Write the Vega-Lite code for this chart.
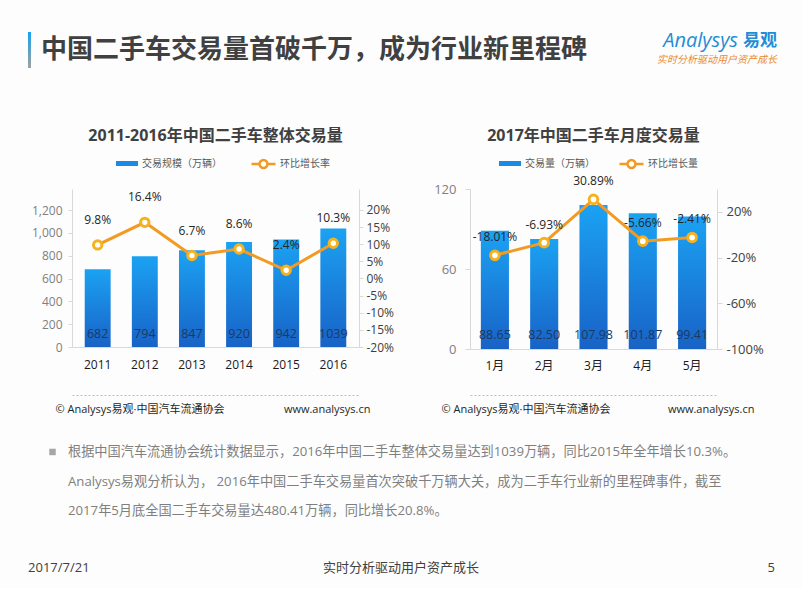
{
  "$schema": "https://vega.github.io/schema/vega-lite/v6.json",
  "background": "#FDFDFD",
  "padding": {"left": 28, "top": 30, "right": 24, "bottom": 10},
  "spacing": 27,
  "vconcat": [
    {
      "spacing": 59,
      "vconcat": [
        {
          "width": 706,
          "height": 36,
          "data": {"values": [{}]},
          "layer": [
            {
              "mark": {"type": "rect", "color": {"gradient": "linear", "x1": 0, "y1": 0, "x2": 0, "y2": 1, "stops": [{"offset": 0, "color": "#17A2EE"}, {"offset": 1, "color": "#A0A0A0"}]}},
              "encoding": {
                "x": {"datum": -0.0623, "type": "quantitative", "scale": {"domain": [0, 1]}, "axis": null},
                "x2": {"datum": -0.0581},
                "y": {"datum": 0, "type": "quantitative", "scale": {"domain": [0, 1]}, "axis": null},
                "y2": {"datum": 1}
              }
            },
            {
              "mark": {"type": "text", "text": "中国二手车交易量首破千万，成为行业新里程碑", "align": "left", "baseline": "middle", "fontSize": 26, "fontWeight": "bold", "color": "#404040"},
              "encoding": {"x": {"datum": -0.0439, "type": "quantitative"}, "y": {"datum": 0.5, "type": "quantitative"}}
            },
            {
              "mark": {"type": "text", "text": "Analysys", "align": "right", "baseline": "middle", "fontSize": 20, "fontStyle": "italic", "color": "#1F8DD6"},
              "encoding": {"x": {"datum": 0.9433, "type": "quantitative"}, "y": {"datum": 0.76, "type": "quantitative"}}
            },
            {
              "mark": {"type": "text", "text": "易观", "align": "right", "baseline": "middle", "fontSize": 17, "fontWeight": "bold", "color": "#1F8DD6"},
              "encoding": {"x": {"datum": 0.9986, "type": "quantitative"}, "y": {"datum": 0.76, "type": "quantitative"}}
            },
            {
              "mark": {"type": "text", "text": "实时分析驱动用户资产成长", "align": "right", "baseline": "middle", "fontSize": 10, "fontStyle": "italic", "color": "#E98A2C"},
              "encoding": {"x": {"datum": 0.9986, "type": "quantitative"}, "y": {"datum": 0.22, "type": "quantitative"}}
            }
          ]
        },
        {
          "spacing": 39,
          "resolve": {"scale": {"color": "independent", "stroke": "independent"}, "legend": {"color": "independent", "stroke": "independent"}},
          "hconcat": [
            {
              "width": 287,
              "height": 158,
              "title": {"text": "2011-2016年中国二手车整体交易量", "fontSize": 16, "fontWeight": "bold", "color": "#404040", "offset": 7, "anchor": "middle"},
              "data": {"values": [
                {"year": "2011", "volume": 682, "growth": 0.098},
                {"year": "2012", "volume": 794, "growth": 0.164},
                {"year": "2013", "volume": 847, "growth": 0.067},
                {"year": "2014", "volume": 920, "growth": 0.086},
                {"year": "2015", "volume": 942, "growth": 0.024},
                {"year": "2016", "volume": 1039, "growth": 0.103}
              ]},
              "layer": [
                {
                  "layer": [
                    {
                      "mark": {"type": "bar", "color": {"gradient": "linear", "x1": 0, "y1": 0, "x2": 0, "y2": 1, "stops": [{"offset": 0, "color": "#1BA2F3"}, {"offset": 1, "color": "#1862C6"}]}},
                      "encoding": {
                        "x": {"field": "year", "type": "ordinal", "scale": {"type": "band", "paddingInner": 0.45, "paddingOuter": 0.27},
                          "axis": {"labelAngle": 0, "labelFontSize": 12, "labelColor": "#1A1A1A", "labelPadding": 12, "ticks": false, "domainColor": "#D9D9D9", "title": null}},
                        "y": {"field": "volume", "type": "quantitative", "scale": {"domain": [0, 1384], "nice": false},
                          "axis": {"values": [0, 200, 400, 600, 800, 1000, 1200], "tickCount": 30, "format": ",d", "labelOverlap": false, "labelColor": "#7F7F7F", "labelFontSize": 12, "domainColor": "#D9D9D9", "tickColor": "#D9D9D9", "tickSize": 4, "grid": false, "title": null, "labelPadding": 6}}
                      }
                    },
                    {
                      "mark": {"type": "bar", "opacity": 0},
                      "encoding": {
                        "x": {"field": "year", "type": "ordinal"},
                        "y": {"field": "volume", "type": "quantitative"},
                        "color": {"datum": "交易规模（万辆）", "scale": {"range": ["#1A8AE5"]},
                          "legend": {"orient": "none", "legendX": 43, "legendY": -37.5, "title": null, "symbolType": "M-1,-0.23H1V0.23H-1Z", "symbolSize": 484, "symbolOpacity": 1, "labelFontSize": 10, "labelColor": "#595959", "labelOffset": 3, "padding": 0}}
                      }
                    }
                  ]
                },
                {
                  "layer": [
                    {
                      "mark": {"type": "line", "strokeWidth": 3},
                      "encoding": {
                        "x": {"field": "year", "type": "ordinal", "scale": {"type": "band", "paddingInner": 0.45, "paddingOuter": 0.27},
                          "axis": {"orient": "bottom", "offset": 48, "labels": false, "ticks": false, "domainColor": "#BFBFBF", "domainDash": [2, 2], "title": "© Analysys易观·中国汽车流通协会", "titleFontSize": 11, "titleFontWeight": "normal", "titleColor": "#262626", "titleAnchor": "start", "titleAlign": "left", "titleBaseline": "middle", "titleX": -17, "titleY": 14}},
                        "y": {"field": "growth", "type": "quantitative", "scale": {"domain": [-0.2, 0.2613], "nice": false},
                          "axis": {"orient": "right", "values": [-0.2, -0.15, -0.1, -0.05, 0, 0.05, 0.1, 0.15, 0.2], "tickCount": 30, "format": ".0%", "labelOverlap": false, "labelColor": "#404040", "labelFontSize": 12, "domainColor": "#D9D9D9", "tickColor": "#D9D9D9", "tickSize": 4, "grid": false, "title": null, "labelPadding": 3}},
                        "stroke": {"datum": "环比增长率", "scale": {"range": ["#F29A22"]},
                          "legend": {"orient": "none", "legendX": 178, "legendY": -38.5, "title": null, "symbolType": "M-1,0H-0.33M0.33,0H1M0.33,0A0.33,0.33,0,1,1,-0.33,0A0.33,0.33,0,1,1,0.33,0", "symbolSize": 576, "symbolStrokeWidth": 2.5, "symbolFillColor": "white", "labelFontSize": 10, "labelColor": "#595959", "labelOffset": 3, "padding": 0}}
                      }
                    },
                    {
                      "mark": {"type": "point", "filled": true, "fill": "white", "stroke": "#F5B21E", "strokeWidth": 3, "size": 70, "opacity": 1},
                      "encoding": {
                        "x": {"field": "year", "type": "ordinal"},
                        "y": {"field": "growth", "type": "quantitative"}
                      }
                    },
                    {
                      "mark": {"type": "text", "dy": -25, "fontSize": 12, "color": "#262626"},
                      "encoding": {
                        "x": {"field": "year", "type": "ordinal"},
                        "y": {"field": "growth", "type": "quantitative"},
                        "text": {"field": "growth", "type": "quantitative", "format": ".1%"}
                      }
                    }
                  ]
                },
                {
                  "mark": {"type": "text", "baseline": "middle", "dy": -13, "fontSize": 12.5, "color": "#1B3A63"},
                  "encoding": {
                    "x": {"field": "year", "type": "ordinal", "scale": {"type": "band", "paddingInner": 0.45, "paddingOuter": 0.27},
                      "axis": {"orient": "bottom", "offset": 48, "labels": false, "ticks": false, "domain": false, "title": "www.analysys.cn", "titleFontSize": 11, "titleFontWeight": "normal", "titleColor": "#262626", "titleAnchor": "end", "titleAlign": "right", "titleBaseline": "middle", "titleX": 298, "titleY": 14}},
                    "y": {"datum": 0, "type": "quantitative", "scale": {"domain": [0, 1384], "nice": false}, "axis": null},
                    "text": {"field": "volume", "type": "quantitative"}
                  }
                }
              ],
              "resolve": {"scale": {"x": "independent", "y": "independent"}}
            },
            {
              "width": 247,
              "height": 160,
              "title": {"text": "2017年中国二手车月度交易量", "fontSize": 16, "fontWeight": "bold", "color": "#404040", "offset": 7, "anchor": "middle"},
              "data": {"values": [
                {"month": "1月", "volume": 88.65, "growth": -0.1801},
                {"month": "2月", "volume": 82.50, "growth": -0.0693},
                {"month": "3月", "volume": 107.98, "growth": 0.3089},
                {"month": "4月", "volume": 101.87, "growth": -0.0566},
                {"month": "5月", "volume": 99.41, "growth": -0.0241}
              ]},
              "layer": [
                {
                  "layer": [
                    {
                      "mark": {"type": "bar", "color": {"gradient": "linear", "x1": 0, "y1": 0, "x2": 0, "y2": 1, "stops": [{"offset": 0, "color": "#1BA2F3"}, {"offset": 1, "color": "#1862C6"}]}},
                      "encoding": {
                        "x": {"field": "month", "type": "ordinal", "scale": {"type": "band", "paddingInner": 0.43, "paddingOuter": 0.22},
                          "axis": {"labelAngle": 0, "labelFontSize": 12, "labelColor": "#1A1A1A", "labelPadding": 11, "ticks": false, "domainColor": "#D9D9D9", "title": null}},
                        "y": {"field": "volume", "type": "quantitative", "scale": {"domain": [0, 120], "nice": false},
                          "axis": {"values": [0, 60, 120], "tickCount": 30, "labelOverlap": false, "labelColor": "#7F7F7F", "labelFontSize": 13, "domainColor": "#D9D9D9", "tickColor": "#D9D9D9", "tickSize": 5, "grid": false, "title": null, "labelPadding": 9}}
                      }
                    },
                    {
                      "mark": {"type": "bar", "opacity": 0},
                      "encoding": {
                        "x": {"field": "month", "type": "ordinal"},
                        "y": {"field": "volume", "type": "quantitative"},
                        "color": {"datum": "交易量（万辆）", "scale": {"range": ["#1A8AE5"]},
                          "legend": {"orient": "none", "legendX": 28, "legendY": -37.5, "title": null, "symbolType": "M-1,-0.23H1V0.23H-1Z", "symbolSize": 484, "symbolOpacity": 1, "labelFontSize": 10, "labelColor": "#595959", "labelOffset": 3, "padding": 0}}
                      }
                    }
                  ]
                },
                {
                  "layer": [
                    {
                      "mark": {"type": "line", "strokeWidth": 3},
                      "encoding": {
                        "x": {"field": "month", "type": "ordinal", "scale": {"type": "band", "paddingInner": 0.43, "paddingOuter": 0.22},
                          "axis": {"orient": "bottom", "offset": 46, "labels": false, "ticks": false, "domainColor": "#BFBFBF", "domainDash": [2, 2], "title": "© Analysys易观·中国汽车流通协会", "titleFontSize": 11, "titleFontWeight": "normal", "titleColor": "#262626", "titleAnchor": "start", "titleAlign": "left", "titleBaseline": "middle", "titleX": -29, "titleY": 14}},
                        "y": {"field": "growth", "type": "quantitative", "scale": {"domain": [-1, 0.4], "nice": false},
                          "axis": {"orient": "right", "values": [-1, -0.6, -0.2, 0.2], "tickCount": 30, "format": ".0%", "labelOverlap": false, "labelColor": "#404040", "labelFontSize": 13, "domainColor": "#D9D9D9", "tickColor": "#D9D9D9", "tickSize": 5, "grid": false, "title": null, "labelPadding": 4}},
                        "stroke": {"datum": "环比增长量", "scale": {"range": ["#F29A22"]},
                          "legend": {"orient": "none", "legendX": 148, "legendY": -38.5, "title": null, "symbolType": "M-1,0H-0.33M0.33,0H1M0.33,0A0.33,0.33,0,1,1,-0.33,0A0.33,0.33,0,1,1,0.33,0", "symbolSize": 576, "symbolStrokeWidth": 2.5, "symbolFillColor": "white", "labelFontSize": 10, "labelColor": "#595959", "labelOffset": 3, "padding": 0}}
                      }
                    },
                    {
                      "mark": {"type": "point", "filled": true, "fill": "white", "stroke": "#F5B21E", "strokeWidth": 3, "size": 75, "opacity": 1},
                      "encoding": {
                        "x": {"field": "month", "type": "ordinal"},
                        "y": {"field": "growth", "type": "quantitative"}
                      }
                    },
                    {
                      "mark": {"type": "text", "dy": -18, "fontSize": 12, "color": "#262626"},
                      "encoding": {
                        "x": {"field": "month", "type": "ordinal"},
                        "y": {"field": "growth", "type": "quantitative"},
                        "text": {"field": "growth", "type": "quantitative", "format": ".2%"}
                      }
                    }
                  ]
                },
                {
                  "mark": {"type": "text", "baseline": "middle", "dy": -14, "fontSize": 12.5, "color": "#1B3A63"},
                  "encoding": {
                    "x": {"field": "month", "type": "ordinal", "scale": {"type": "band", "paddingInner": 0.43, "paddingOuter": 0.22},
                      "axis": {"orient": "bottom", "offset": 46, "labels": false, "ticks": false, "domain": false, "title": "www.analysys.cn", "titleFontSize": 11, "titleFontWeight": "normal", "titleColor": "#262626", "titleAnchor": "end", "titleAlign": "right", "titleBaseline": "middle", "titleX": 284, "titleY": 14}},
                    "y": {"datum": 0, "type": "quantitative", "scale": {"domain": [0, 120], "nice": false}, "axis": null},
                    "text": {"field": "volume", "type": "quantitative", "format": ".2f"}
                  }
                }
              ],
              "resolve": {"scale": {"x": "independent", "y": "independent"}}
            }
          ]
        }
      ]
    },
    {
      "width": 706,
      "height": 137,
      "data": {"values": [{}]},
      "layer": [
        {
          "mark": {"type": "point", "shape": "square", "filled": true, "size": 42, "color": "#A6A6A6", "opacity": 1},
          "encoding": {"x": {"datum": -0.0276, "type": "quantitative", "scale": {"domain": [0, 1]}, "axis": null}, "y": {"datum": 0.92, "type": "quantitative", "scale": {"domain": [0, 1]}, "axis": null}}
        },
        {
          "mark": {"type": "text", "text": "根据中国汽车流通协会统计数据显示，2016年中国二手车整体交易量达到1039万辆，同比2015年全年增长10.3%。", "align": "left", "baseline": "middle", "fontSize": 13.2, "color": "#7F7F7F"},
          "encoding": {"x": {"datum": -0.0057, "type": "quantitative"}, "y": {"datum": 0.92, "type": "quantitative"}}
        },
        {
          "mark": {"type": "text", "text": "Analysys易观分析认为， 2016年中国二手车交易量首次突破千万辆大关，成为二手车行业新的里程碑事件，截至", "align": "left", "baseline": "middle", "fontSize": 13.2, "color": "#7F7F7F"},
          "encoding": {"x": {"datum": -0.0057, "type": "quantitative"}, "y": {"datum": 0.701, "type": "quantitative"}}
        },
        {
          "mark": {"type": "text", "text": "2017年5月底全国二手车交易量达480.41万辆，同比增长20.8%。", "align": "left", "baseline": "middle", "fontSize": 13.2, "color": "#7F7F7F"},
          "encoding": {"x": {"datum": -0.0057, "type": "quantitative"}, "y": {"datum": 0.489, "type": "quantitative"}}
        },
        {
          "mark": {"type": "text", "text": "2017/7/21", "align": "left", "baseline": "middle", "fontSize": 13, "color": "#404040"},
          "encoding": {"x": {"datum": -0.0623, "type": "quantitative"}, "y": {"datum": 0.073, "type": "quantitative"}}
        },
        {
          "mark": {"type": "text", "text": "实时分析驱动用户资产成长", "align": "center", "baseline": "middle", "fontSize": 13, "color": "#404040"},
          "encoding": {"x": {"datum": 0.466, "type": "quantitative"}, "y": {"datum": 0.073, "type": "quantitative"}}
        },
        {
          "mark": {"type": "text", "text": "5", "align": "right", "baseline": "middle", "fontSize": 13, "color": "#404040"},
          "encoding": {"x": {"datum": 0.9958, "type": "quantitative"}, "y": {"datum": 0.073, "type": "quantitative"}}
        }
      ]
    }
  ],
  "config": {
    "font": "'Open Sans', 'Noto Sans CJK SC', sans-serif",
    "view": {"stroke": null},
    "axis": {"grid": false, "labelOverlap": false},
    "locale": {"number": {"decimal": ".", "thousands": ",", "grouping": [3], "currency": ["$", ""], "minus": "-"}}
  }
}
